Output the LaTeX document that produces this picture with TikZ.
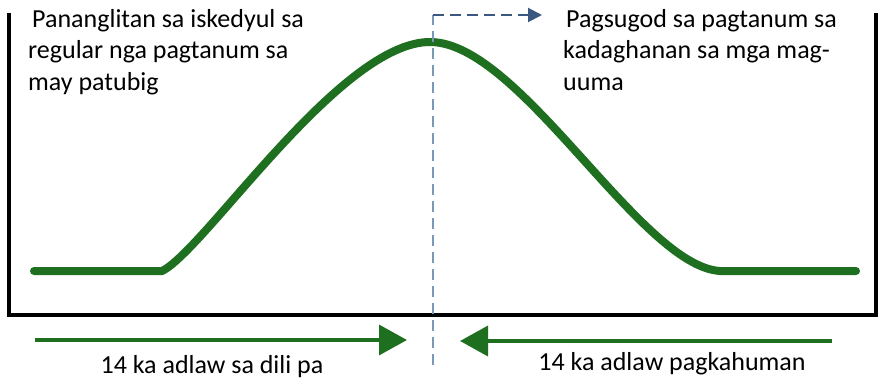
\documentclass[tikz,border=0pt]{standalone}
\usepackage{fontspec}
\setmainfont{Carlito}
\usepackage{tikz}
\usetikzlibrary{positioning,arrows.meta}
\definecolor{curvegreen}{RGB}{30,112,32}
\definecolor{markblue}{RGB}{122,152,184}
\definecolor{markdark}{RGB}{58,88,128}
\tikzset{
  frameline/.style={line width=4pt, black},
  growcurve/.style={line width=8pt, curvegreen, line cap=round},
  dayarrow/.style={line width=3.5pt, curvegreen, -{Triangle[length=28pt, width=30pt]}},
  markline/.style={line width=2pt, markblue, dash pattern=on 11pt off 6pt},
  notetext/.style={align=left, inner sep=0pt, anchor=north west, font=\fontsize{26}{31.5}\selectfont},
  daytext/.style={inner sep=0pt, anchor=base, font=\fontsize{26}{31.5}\selectfont},
}

\begin{document}
\begin{tikzpicture}[x=1pt, y=-1pt]
  \useasboundingbox (0,0) rectangle (882,380);
  % kuwadro
  \coordinate (ftl) at (9,13);
  \coordinate (fbl) at (9,315);
  \coordinate (fbr) at (876,315);
  \coordinate (ftr) at (876,13);
  \draw[frameline] (ftl) -- (fbl) -- (fbr) -- (ftr);
  % kurba
  \coordinate (c0) at (34,271);
  \coordinate (c1) at (162,271);
  \coordinate (peak) at (430,42);
  \coordinate (c2) at (720,271);
  \coordinate (c3) at (856,271);
  \draw[growcurve] (c0) -- (c1) .. controls (205,250) and (340,42) .. (peak)
    .. controls (520,42) and (640,266) .. (c2) -- (c3);
  % marka
  \coordinate (mbot) at (433,365);
  \coordinate (mtop) at (433,15);
  \coordinate (mend) at (542,15);
  \draw[markline] (mbot) -- (mtop);
  \draw[markline, markdark, -{Triangle[length=14pt, width=14pt]}] (mtop) -- (mend);
  % mga adlaw
  \coordinate (la) at (35,340);
  \coordinate (lb) at (407,340);
  \coordinate (ra) at (832,341);
  \coordinate (rb) at (460,341);
  \draw[dayarrow] (la) -- (lb);
  \draw[dayarrow] (ra) -- (rb);
  % mga teksto
  \node[notetext] (leftnote) at (28,9) {\hspace{4pt}Pananglitan sa iskedyul sa\\regular nga pagtanum sa\\may patubig};
  \node[notetext] (rightnote) at (563,9) {\hspace{3pt}Pagsugod sa pagtanum sa\\kadaghanan sa mga mag-\\uuma};
  \node[daytext] (before) at (212,373) {14 ka adlaw sa dili pa};
  \node[daytext] (after) at (672,370) {14 ka adlaw pagkahuman};
\end{tikzpicture}
\end{document}
